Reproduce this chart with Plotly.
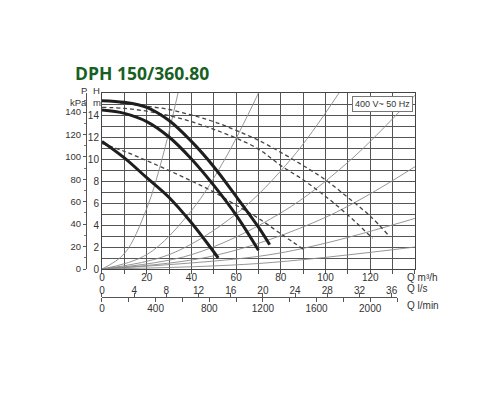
import plotly.graph_objects as go

# pump curves, Q in m3/h, H in m
q_a = [0, 10, 20, 30, 40, 50, 60, 70, 75]
h_a = [15.3, 15.15, 14.7, 13.5, 11.6, 9.3, 6.6, 3.8, 2.2]
q_b = [0, 10, 20, 30, 40, 50, 60, 70]
h_b = [14.45, 14.15, 13.4, 12.0, 10.0, 7.6, 4.9, 1.7]
q_c = [0, 10, 20, 30, 40, 52]
h_c = [11.6, 10.1, 8.3, 6.5, 4.2, 1.0]

# dashed curves
q_d1 = [8, 20, 30, 40, 50, 60, 70, 80, 90, 100, 110, 120, 128]
h_d1 = [15.1, 14.8, 14.5, 14.0, 13.4, 12.6, 11.7, 10.6, 9.4, 8.1, 6.5, 4.8, 3.1]
q_d2 = [0, 10, 20, 30, 40, 50, 60, 70, 80, 90, 100, 110, 121]
h_d2 = [14.7, 14.6, 14.35, 13.95, 13.4, 12.7, 11.9, 10.9, 9.4, 8.1, 6.6, 4.9, 2.8]
q_d3 = [0, 10, 20, 30, 40, 50, 60, 70, 80, 90]
h_d3 = [11.4, 10.7, 9.85, 8.95, 8.0, 7.0, 5.8, 4.6, 3.2, 1.8]

# thin system curves from the origin
sys_q = [
    [0, 10, 20, 27, 34],
    [0, 20, 40, 55, 70],
    [0, 30, 60, 85, 106],
    [0, 40, 80, 110, 140],
    [0, 50, 100, 140],
    [0, 70, 100, 140],
    [0, 70, 140],
]
sys_h = [
    [0, 1.4, 5.5, 10.1, 16],
    [0, 1.3, 5.3, 10.0, 16],
    [0, 1.3, 5.0, 10.1, 16],
    [0, 1.3, 5.1, 9.7, 15.8],
    [0, 1.2, 4.7, 9.3],
    [0, 1.15, 2.35, 4.6],
    [0, 0.5, 2.0],
]

x_ticks = list(range(0, 150, 10))
x_labels = [str(v) if v % 20 == 0 and v < 140 else "" for v in x_ticks]
h_ticks = list(range(0, 17))
h_labels = [str(v) if v % 2 == 0 and v < 16 else "" for v in h_ticks]
p_ticks = list(range(0, 160, 20))
ls_ticks = list(range(0, 40, 4))
lmin_ticks = list(range(0, 2400, 200))
lmin_labels = [str(v) if v % 400 == 0 and v <= 2000 else "" for v in lmin_ticks]

FONT = "Liberation Sans, Arial, sans-serif"
TXT = "#333333"

fig = go.Figure()

for qs, hs in zip(sys_q, sys_h):
    fig.add_trace(go.Scatter(x=qs, y=hs, mode="lines", line_shape="spline",
                             line=dict(color="#8a8a8a", width=0.9),
                             hoverinfo="skip", showlegend=False))

for qs, hs in [(q_d1, h_d1), (q_d2, h_d2), (q_d3, h_d3)]:
    fig.add_trace(go.Scatter(x=qs, y=hs, mode="lines", line_shape="spline",
                             line=dict(color="#444444", width=1.3, dash="4px,3px"),
                             showlegend=False))

for qs, hs in [(q_a, h_a), (q_b, h_b), (q_c, h_c)]:
    fig.add_trace(go.Scatter(x=qs, y=hs, mode="lines", line_shape="spline",
                             line=dict(color="#1e1e1e", width=3),
                             showlegend=False))

# invisible traces so the extra axes get drawn
hidden = dict(mode="markers", marker=dict(opacity=0), hoverinfo="skip", showlegend=False)
fig.add_trace(go.Scatter(x=[0], y=[0], xaxis="x", yaxis="y2", **hidden))
fig.add_trace(go.Scatter(x=[0], y=[0], xaxis="x2", yaxis="y3", **hidden))
fig.add_trace(go.Scatter(x=[0], y=[0], xaxis="x3", yaxis="y3", **hidden))

x_dom = [0.1183, 1]
y_dom = [0.2574, 1]
low_dom = [0.1183, 0.9493]
low_pos = 0.1392

fig.update_layout(
    width=500, height=400,
    margin=dict(l=52, r=93, t=85, b=78),
    paper_bgcolor="white", plot_bgcolor="rgba(0,0,0,0)",
    font=dict(family=FONT, size=10, color=TXT),
    xaxis=dict(domain=x_dom, range=[0, 140], anchor="y",
               tickmode="array", tickvals=x_ticks, ticktext=x_labels,
               ticks="outside", ticklen=4, tickcolor="#555", ticklabelstandoff=-5,
               showgrid=True, gridcolor="#555555", gridwidth=1,
               showline=True, linecolor="#444", mirror=True, zeroline=False,
               tickfont=dict(size=10, color=TXT)),
    yaxis=dict(domain=y_dom, range=[0, 16], anchor="x",
               tickmode="array", tickvals=h_ticks, ticktext=h_labels,
               ticks="", showgrid=True, gridcolor="#555555", gridwidth=1,
               showline=True, linecolor="#444", mirror=True, zeroline=False,
               tickfont=dict(size=10, color=TXT)),
    yaxis2=dict(overlaying="y", anchor="free", position=0.0732, side="left",
                range=[0, 16 * 9.81], tickmode="array", tickvals=p_ticks,
                ticks="outside", ticklen=3, tickcolor="#555",
                minor=dict(tickvals=list(range(10, 160, 20)), ticks="outside",
                           ticklen=2, tickcolor="#777"),
                showgrid=False, zeroline=False, showline=True, linecolor="#555",
                tickfont=dict(size=9.5, color=TXT)),
    yaxis3=dict(domain=y_dom, anchor="free", position=0, range=[0, 1],
                visible=False),
    xaxis2=dict(domain=low_dom, anchor="free", position=low_pos, side="top",
                range=[0, 132 / 3.6], tickmode="array", tickvals=ls_ticks,
                ticks="outside", ticklen=4, tickcolor="#555", ticklabelstandoff=-5,
                showgrid=False, zeroline=False, showline=True, linecolor="#555",
                tickfont=dict(size=10, color=TXT)),
    xaxis3=dict(domain=low_dom, anchor="free", position=low_pos, side="bottom",
                range=[0, 2200], tickmode="array", tickvals=lmin_ticks,
                ticktext=lmin_labels, ticks="outside", ticklen=4, tickcolor="#555",
                ticklabelstandoff=-2,
                showgrid=False, zeroline=False, showline=True, linecolor="#555",
                tickfont=dict(size=10, color=TXT)),
)

notes = [
    ("DPH 150/360.80", 0.0366, 1.085, "left", 17.5, "#17601f", True),
    ("H", 0.1042, 1.012, "center", 9.5, TXT, False),
    ("m", 0.1042, 0.962, "center", 9.5, TXT, False),
    ("P", 0.0676, 1.012, "center", 9.5, TXT, False),
    ("kPa", 0.0535, 0.962, "center", 9.5, TXT, False),
    ("Q m³/h", 0.9718, 0.2236, "left", 10, TXT, False),
    ("Q l/s", 0.9718, 0.173, "left", 10, TXT, False),
    ("Q l/min", 0.9718, 0.1013, "left", 10, TXT, False),
]
for text, x, y, xa, size, color, bold in notes:
    fig.add_annotation(
        text=f"<b>{text}</b>" if bold else text, x=x, y=y, xref="paper", yref="paper",
        xanchor=xa, yanchor="middle", showarrow=False,
        font=dict(size=size, color=color,
                  family="Liberation Sans Narrow, Open Sans, sans-serif" if bold else FONT))

fig.add_annotation(text="400 V~ 50 Hz", x=139, y=15.75, xref="x", yref="y",
                   xanchor="right", yanchor="top", showarrow=False,
                   bgcolor="white", bordercolor="#777", borderwidth=1, borderpad=2,
                   font=dict(size=9, color=TXT, family=FONT))

fig.write_html("out.html")
